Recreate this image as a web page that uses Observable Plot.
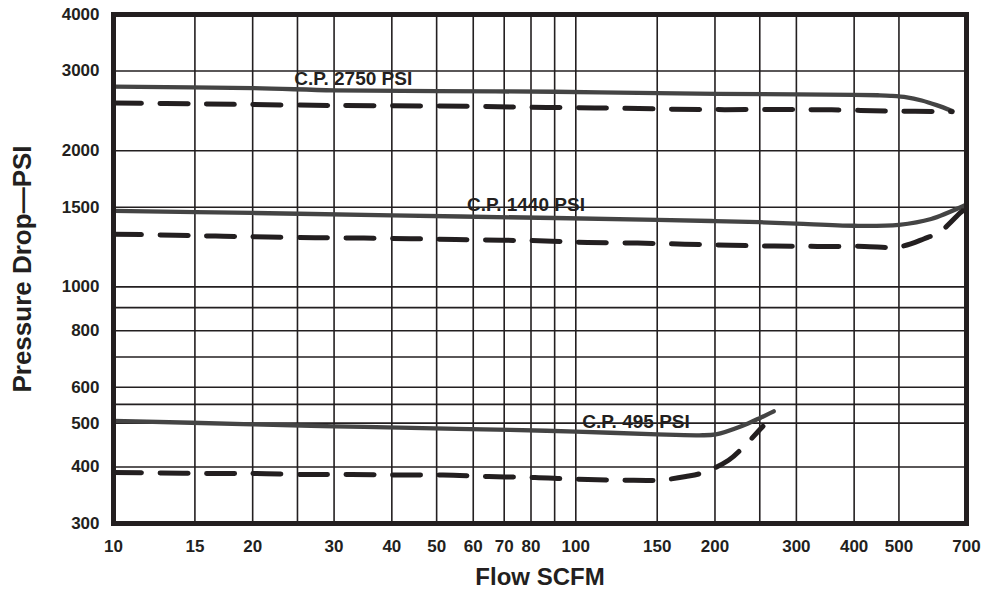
<!DOCTYPE html>
<html><head><meta charset="utf-8">
<script src="https://cdn.jsdelivr.net/npm/d3@7"></script>
<script src="https://cdn.jsdelivr.net/npm/@observablehq/plot@0.6"></script>
<style>body{margin:0;background:#fff} #chart svg{display:block}</style>
</head><body><div id="chart"></div>
<script>
// Axis ticks and gridlines
const xTicks = [10, 15, 20, 30, 40, 50, 60, 70, 80, 100, 150, 200, 300, 400, 500, 700];
const xGrid = [15, 20, 25, 30, 40, 50, 60, 70, 80, 90, 100, 150, 200, 250, 300, 400, 500];
const yTicks = [300, 400, 500, 600, 800, 1000, 1500, 2000, 3000, 4000];
const yGrid = [400, 500, 550, 600, 700, 800, 900, 1000, 1500, 2000, 3000];

// C.P. 2750 PSI
const flow2750Solid = [10, 20, 30, 50, 90, 150, 300, 400, 450, 480, 520, 560, 603, 652];
const psi2750Solid = [2770, 2750, 2720, 2708, 2700, 2680, 2663, 2658, 2652, 2645, 2625, 2582, 2522, 2448];
const flow2750Dashed = [10, 15, 30, 60, 80, 110, 190, 300, 380, 470, 652];
const psi2750Dashed = [2550, 2538, 2518, 2507, 2494, 2487, 2466, 2466, 2460, 2448, 2440];

// C.P. 1440 PSI
const flow1440Solid = [10, 20, 40, 90, 150, 200, 250, 300, 400, 500, 587, 695];
const psi1440Solid = [1473, 1457, 1439, 1420, 1406, 1398, 1390, 1380, 1365, 1372, 1413, 1515];
const flow1440Dashed = [10, 13.6, 17.3, 21.6, 27.3, 34.8, 44, 55, 69, 86, 106, 136, 172, 216, 269, 333, 421, 500, 567, 614, 678, 688];
const psi1440Dashed = [1308, 1301, 1294, 1289, 1285, 1282, 1278, 1273, 1268, 1264, 1254, 1250, 1243, 1236, 1231, 1229, 1229, 1226, 1278, 1325, 1457, 1475];

// C.P. 495 PSI
const flow495Solid = [10, 20, 30, 44, 72, 100, 150, 185, 201, 228, 251, 268];
const psi495Solid = [506, 497, 492, 488, 483, 479, 472, 470, 472, 492, 514, 531];
const flow495Dashed = [10, 12.7, 16.3, 20.4, 25.7, 32.7, 41.3, 51.6, 64.8, 81.6, 99, 127, 151, 173, 189, 214, 230, 254];
const psi495Dashed = [389, 388, 387, 387, 385, 385, 384, 384, 381, 379, 376, 374, 374, 381, 389, 414, 442, 492];

// Curve labels
const labelText = ["C.P. 2750 PSI", "C.P. 1440 PSI", "C.P. 495 PSI"];
const labelFlow = [33, 78, 135];
const labelPsi = [2885, 1517, 502.5];

const toRows = (name, xs, ys) => xs.map((x, i) => ({curve: name, flow: x, psi: ys[i]}));
const solidRows = [
  ...toRows("2750", flow2750Solid, psi2750Solid),
  ...toRows("1440", flow1440Solid, psi1440Solid),
  ...toRows("495", flow495Solid, psi495Solid)
];
const dashedRows = [
  ...toRows("2750", flow2750Dashed, psi2750Dashed),
  ...toRows("1440", flow1440Dashed, psi1440Dashed),
  ...toRows("495", flow495Dashed, psi495Dashed)
];
const labels = labelText.map((t, i) => ({text: t, flow: labelFlow[i], psi: labelPsi[i]}));

const ink = "#231f20";
const chart = Plot.plot({
  width: 987,
  height: 591,
  marginLeft: 113,
  marginRight: 21,
  marginTop: 14,
  marginBottom: 68,
  style: {fontFamily: "'Liberation Sans', Arial, Helvetica, sans-serif", fontWeight: "bold", background: "#fff", color: ink},
  x: {type: "log", domain: [10, 700], axis: null},
  y: {type: "log", domain: [300, 4000], axis: null},
  marks: [
    Plot.ruleX(xGrid, {stroke: ink, strokeWidth: 1.6}),
    Plot.ruleY(yGrid, {stroke: ink, strokeWidth: 1.6}),
    Plot.line(solidRows, {x: "flow", y: "psi", z: "curve", stroke: "#444", strokeWidth: 4.3, curve: "catmull-rom"}),
    Plot.line(dashedRows, {x: "flow", y: "psi", z: "curve", stroke: ink, strokeWidth: 5, strokeDasharray: "28,18.5", curve: "catmull-rom"}),
    Plot.text(labels, {x: "flow", y: "psi", text: "text", fontSize: 19, fontWeight: "bold", fill: ink}),
    Plot.frame({stroke: ink, strokeWidth: 5}),
    Plot.text(xTicks, {x: d => d, frameAnchor: "bottom", lineAnchor: "middle", dy: 23, text: d => String(d), fontSize: 17, fontWeight: "bold", fill: ink}),
    Plot.text(yTicks, {y: d => d, frameAnchor: "left", textAnchor: "end", lineAnchor: "middle", dx: -14, text: d => String(d), fontSize: 17, fontWeight: "bold", fill: ink}),
    Plot.text(["Flow SCFM"], {frameAnchor: "bottom", lineAnchor: "middle", dy: 54, fontSize: 24, fontWeight: "bold", fill: ink}),
    Plot.text(["Pressure Drop—PSI"], {frameAnchor: "left", textAnchor: "middle", lineAnchor: "middle", dx: -91, rotate: -90, fontSize: 26, fontWeight: "bold", fill: ink})
  ]
});
document.getElementById("chart").append(chart);
</script></body></html>
